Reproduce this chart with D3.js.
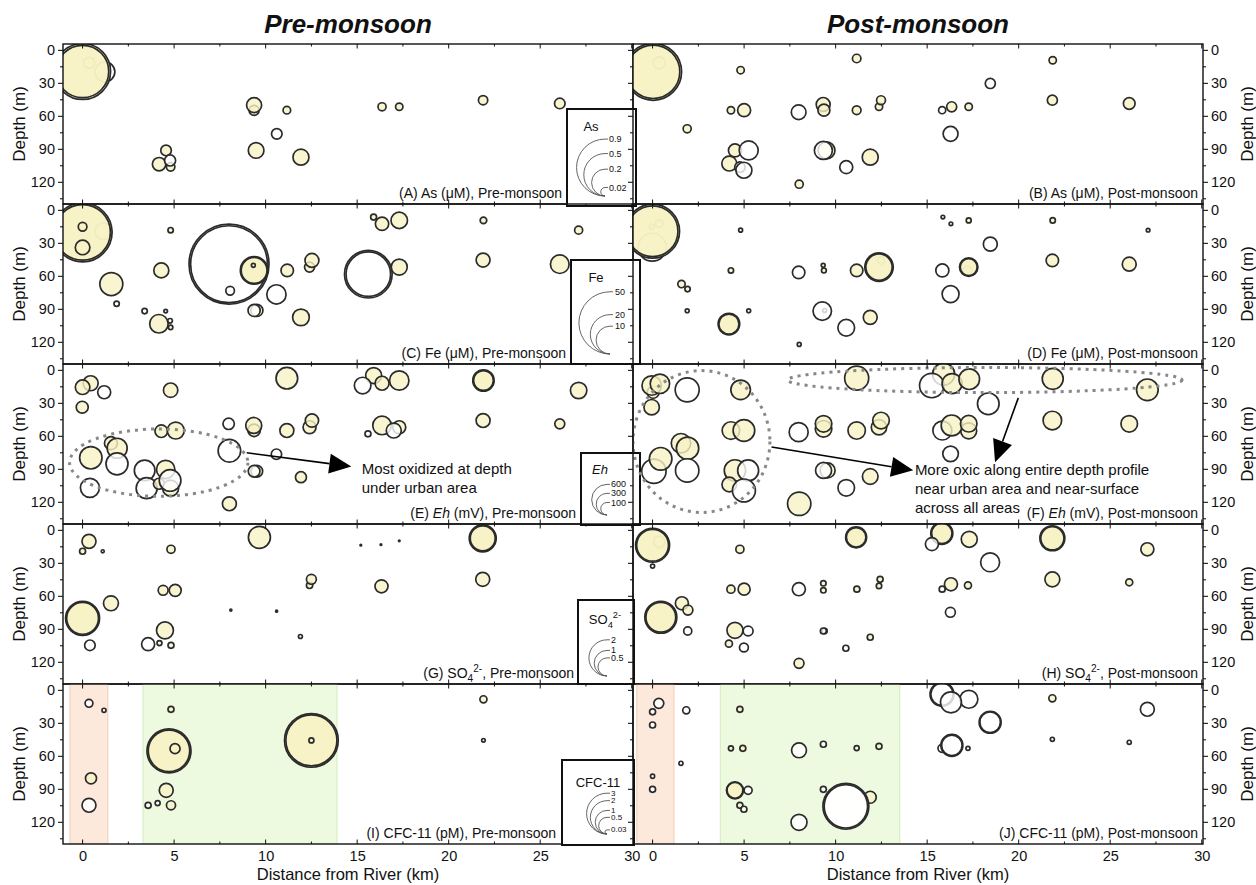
<!DOCTYPE html>
<html><head><meta charset="utf-8">
<script src="https://cdn.jsdelivr.net/npm/d3@7"></script>
<style>
body{margin:0;background:#fff}
text{font-family:"Liberation Sans",Arial,Helvetica,sans-serif;fill:#111}
</style>
</head><body>
<svg id="chart" width="1256" height="885"></svg>
<script>
// Each record: [distance from river (km), depth (m), value, open marker (1 = unfilled)]
const asPre = [
  [0.36,11.8,0.034,0],[1.22,20,0.11,1],[0,19.7,0.87,0],[0,19.7,0.76,0],
  [4.56,91.5,0.031,0],[4.18,104,0.05,0],[4.81,106.4,0.02,0],[4.78,100.6,0.034,1],
  [9.37,55,0.028,0],[9.37,50.3,0.0625,0],[11.16,54.9,0.016,0],[10.61,76.4,0.031,1],
  [9.48,91.5,0.068,0],[11.93,97.6,0.071,0],[16.36,51.8,0.018,0],[17.3,51.8,0.015,0],
  [21.88,45.8,0.024,0],[26.07,48.8,0.031,0]
];
const asPost = [
  [0.36,11.8,0.04,0],[0.03,20,0.9,0],[0.03,20,0.79,0],[4.81,18.5,0.015,0],
  [11.15,7.9,0.02,0],[4.28,54.9,0.015,0],[5.0,54.9,0.047,0],[1.89,71.8,0.018,0],
  [7.98,56.7,0.06,1],[9.32,49.7,0.054,0],[9.36,54.9,0.04,0],[11.15,54.9,0.021,0],
  [12.37,51.8,0.015,0],[12.48,45.8,0.022,0],[15.82,54.9,0.014,1],[16.28,76.4,0.062,1],
  [16.34,51.8,0.028,0],[17.27,51.8,0.015,0],[18.45,30.6,0.028,1],[21.86,9.5,0.015,0],
  [21.84,45.8,0.028,0],[26.04,48.8,0.038,0],[4.5,91.5,0.047,0],[5.25,91.5,0.1,1],
  [4.19,103.4,0.062,0],[4.77,106.7,0.03,1],[4.99,109.5,0.071,1],[9.5,91.5,0.08,0],
  [9.33,91.5,0.09,1],[10.58,106.7,0.047,1],[11.89,97.6,0.071,0],[8.01,122.2,0.018,0]
];
const fePre = [
  [1.13,19.4,3.6,1],[0,20.5,45,0],[0,20.5,40,0],[0,15.4,0.96,0],[0,34.2,2.75,0],
  [4.81,18.5,0.37,0],[4.3,55.1,2.9,0],[1.57,67.5,6.8,0],[1.86,85.4,0.37,1],
  [3.39,92.1,0.37,1],[4.54,92.1,0.17,0],[4.17,103.6,4.4,0],[4.78,100.9,0.27,1],
  [4.81,106.9,0.25,0],[8.0,49.4,82.6,1],[8.0,49.4,76.2,1],[8.06,73.6,0.96,1],
  [9.37,55.1,9.8,0],[9.37,55.1,8.6,0],[9.33,50.5,0.2,0],[9.52,91.5,1.9,0],
  [9.37,91.5,1.9,1],[10.59,76.9,4.8,1],[11.18,55.1,2.0,0],[12.4,52.1,1.3,0],
  [12.53,46,2.5,0],[11.93,97.8,3.6,0],[15.9,6.6,0.46,0],[16.36,12.7,2.3,0],
  [17.3,9.6,3.5,0],[15.61,58.5,29.3,1],[15.61,58.5,25.6,1],[17.3,52.1,3.3,0],
  [21.9,9.6,0.56,0],[21.88,45.7,2.5,0],[27.1,18.5,0.83,0],[26.07,49.4,4.5,0]
];
const fePost = [
  [-0.02,34,10.1,1],[0.36,12.4,0.7,0],[-0.05,15.5,0.32,0],[0,19.4,37.6,0],[0,19.4,33.2,0],
  [4.81,18.5,0.2,0],[1.58,67.5,0.7,0],[1.91,72.1,0.37,0],[1.89,91.8,0.2,1],
  [4.28,55.1,0.37,0],[5.25,91.8,0.2,1],[4.17,103.9,6,0],[4.17,103.9,5.2,0],
  [7.98,56.9,2.0,1],[9.32,50.5,0.2,0],[9.36,55.1,0.3,0],[9.4,91.5,0.2,0],
  [9.27,92.1,4.4,1],[10.58,107.3,3.6,1],[11.15,55.1,2.0,0],[11.89,97.8,2.5,0],
  [12.48,46,0.7,0],[12.37,52.1,10.4,0],[12.37,52.1,9.0,0],[8.01,122.4,0.2,0],
  [15.86,6.6,0.17,0],[16.3,12.7,0.17,0],[17.27,9.6,0.32,0],[15.83,55.1,2.2,1],
  [17.2,55.5,1.0,0],[17.27,52.1,4.4,0],[17.27,52.1,3.7,0],[16.28,76.6,3.7,1],
  [18.45,31.2,2.5,1],[21.86,9.6,0.37,0],[21.84,46,2.0,0],[27.07,18.5,0.17,0],
  [26.04,49.4,2.5,0]
];
const ehPre = [
  [0.44,12.2,144,0],[0,15.8,136,0],[1.18,20.4,108,1],[-0.02,34,92,0],
  [0.45,80,321,0],[0.4,107.3,231,1],[1.55,66.7,108,0],[1.89,71.3,256,0],
  [1.88,85.5,310,1],[3.39,91.5,272,1],[3.5,107.6,282,1],[4.17,103.6,77,0],
  [4.81,107.6,164,0],[4.54,90.6,216,0],[4.78,100.6,300,1],[4.3,55.8,102,0],
  [5.09,55.2,185,0],[4.81,18.5,132,0],[7.98,49.1,83,1],[8.02,73.6,327,1],
  [8.02,121.8,125,0],[9.37,55,100,0],[9.35,50.6,164,0],[9.52,92.2,87,0],
  [9.37,92.2,87,1],[10.59,76.7,69,1],[11.16,7.6,300,0],[11.16,55.2,125,0],
  [12.4,52.2,108,0],[12.53,46.1,114,0],[11.93,97.6,77,0],[15.9,5.2,164,0],
  [16.36,12.2,125,0],[15.3,14.3,176,1],[17.3,9.7,240,0],[16.36,50.6,221,0],
  [17.3,52.2,108,0],[17.0,55.2,144,1],[15.59,58.2,23,1],[21.9,9.7,292,0],
  [21.9,9.7,250,0],[21.88,46.1,125,0],[27.1,18.8,172,0],[26.07,49.1,64,0]
];
const ehPost = [
  [0.03,20.4,92,0],[-0.05,14.3,241,0],[0.4,12.7,241,0],[-0.05,34,152,0],
  [1.89,18.2,369,1],[4.81,18.2,246,0],[4.28,55.2,198,0],[4.99,55.2,300,0],
  [1.55,66.7,241,0],[1.91,71.3,321,0],[0.07,92.2,380,1],[0.44,80.9,327,0],
  [1.89,91.5,350,1],[4.5,91.5,293,0],[5.22,91.5,282,1],[4.19,104.3,137,0],
  [4.99,109.7,338,1],[8.01,121.8,350,0],[7.98,56.7,231,1],[9.34,53.6,176,0],
  [9.34,49.1,176,0],[11.15,55.2,194,0],[12.37,52.2,152,0],[12.48,46.1,176,0],
  [9.56,91.5,144,0],[9.34,91.5,164,1],[10.58,107.3,176,1],[11.89,97,156,0],
  [11.15,7.6,369,0],[15.9,4,310,0],[15.25,14.3,380,1],[16.36,12.5,256,0],
  [17.3,8.5,272,0],[18.34,30.9,300,1],[17.27,55.5,164,0],[15.83,55.2,231,1],
  [16.34,50.6,282,0],[17.27,49,176,0],[16.28,76.4,156,1],[21.86,8.2,282,0],
  [21.84,46.1,221,0],[27.03,18.2,300,0],[26.04,49.1,176,0]
];
const so4Pre = [
  [0,19.5,0.055,0],[0.35,10.5,0.3,0],[1.1,19.5,0.014,1],[4.83,17.7,0.1,0],
  [9.66,6.8,0.74,0],[15.2,14,0.003,1],[16.3,13.5,0.003,1],[17.3,10,0.003,1],
  [21.86,7.7,1.11,0],[21.86,7.7,0.95,0],[12.4,50.5,0.06,0],[12.5,45,0.15,0],
  [21.86,45,0.3,0],[16.33,51.4,0.26,0],[4.4,55,0.15,0],[5.06,55,0.22,0],
  [0,80.5,1.76,0],[0,80.5,1.55,0],[1.55,66.8,0.34,0],[4.5,91.4,0.44,0],
  [4.2,103,0.038,0],[3.58,104,0.26,1],[0.4,105,0.17,1],[4.83,105,0.055,0],
  [11.9,97,0.024,0],[8.1,73,0.006,1],[10.6,74,0.006,1]
];
const so4Post = [
  [0.36,11,0.2,0],[0,14,1.76,0],[0,14,1.55,0],[0,33,0.025,1],[4.77,17.7,0.1,0],
  [11.12,6.8,0.67,0],[11.12,6.8,0.58,0],[15.8,3.2,0.74,0],[15.8,3.2,0.64,0],
  [15.26,13,0.26,1],[17.3,8.6,0.39,0],[18.44,29.5,0.55,1],[21.84,7.7,0.95,0],
  [21.84,7.7,0.82,0],[27.03,17.7,0.26,0],[21.84,45,0.34,0],[26.04,47.7,0.075,0],
  [12.37,51,0.045,0],[12.43,45,0.055,0],[9.33,48.6,0.045,0],[9.33,55,0.045,0],
  [7.99,54,0.26,1],[11.16,54,0.055,0],[15.82,54,0.055,1],[16.3,49.5,0.26,0],
  [17.23,50.5,0.075,0],[16.27,75,0.15,1],[4.28,54,0.1,0],[5.0,54,0.22,0],
  [1.6,66.8,0.26,0],[1.93,73,0.15,0],[0.45,79.5,1.56,0],[0.45,79.5,1.36,0],
  [1.92,92,0.1,1],[4.5,91.4,0.39,0],[5.22,92,0.15,1],[4.17,103.5,0.075,0],
  [4.99,107,0.12,1],[9.4,92,0.04,0],[9.33,92,0.055,1],[10.56,107.7,0.055,1],
  [11.89,97.7,0.055,0],[8.0,121.4,0.15,0]
];
const cfcPre = [
  [0.35,12.3,0.11,1],[1.17,18.6,0.03,1],[0.46,80.5,0.22,0],[0.35,105,0.35,1],
  [4.83,17.7,0.065,0],[4.72,55.5,3.5,0],[4.72,55.5,3.1,0],[5.05,53.5,0.18,0],
  [4.57,91.4,0.35,0],[4.83,105,0.15,0],[3.58,105,0.065,1],[4.1,103,0.045,1],
  [12.5,46,5.2,0],[12.5,46,4.7,0],[12.5,46,0.045,0],[21.9,8.6,0.09,0],[21.9,45.9,0.023,0]
];
const cfcPost = [
  [0.34,12.3,0.18,1],[0,20,0.065,1],[0,32,0.065,1],[1.84,18.6,0.09,1],
  [1.55,66.8,0.03,1],[0,78.6,0.03,1],[0,90.5,0.065,1],[4.77,17.7,0.065,0],
  [4.28,53.2,0.045,0],[4.93,53.2,0.065,0],[8.0,55,0.4,1],[9.33,49.5,0.065,1],
  [11.15,53,0.045,1],[12.37,51.4,0.065,0],[4.5,91.4,0.52,0],[4.5,91.4,0.45,0],
  [5.22,91.4,0.115,1],[4.77,105,0.065,0],[4.99,108.6,0.065,1],[9.33,90.5,0.065,1],
  [11.89,97.7,0.26,0],[10.56,105.9,3.8,1],[10.56,105.9,3.4,1],[8.0,120.5,0.46,1],
  [15.81,4,1.03,1],[15.81,4,0.9,1],[17.28,8.6,0.58,1],[16.3,11.4,0.79,1],
  [18.44,29.5,0.87,1],[18.44,29.5,0.76,1],[15.81,53.2,0.115,1],[16.35,50.5,0.87,1],
  [16.35,50.5,0.76,1],[17.23,53.2,0.03,1],[21.84,7.7,0.09,0],[21.84,45,0.03,0],
  [27.03,17.7,0.35,1],[26.04,47.7,0.03,1]
];

// Legend values per parameter
const asLegend = [0.9,0.5,0.2,0.02];
const feLegend = [50,20,10];
const ehLegend = [600,300,100];
const so4Legend = [2,1,0.5];
const cfcLegend = [3,2,1,0.5,0.03];

// Axis ticks
const xTicks = [0,5,10,15,20,25,30];
const xMinor = [2.5,7.5,12.5,17.5,22.5,27.5];
const yTicks = [0,30,60,90,120];
const yMinor = [15,45,75,105,135];

// Shaded zones in the CFC-11 panels: [from km, to km, kind]
const cfcZonesPre = [[-0.69,1.38,'urban'],[3.3,13.9,'rural']];
const cfcZonesPost = [[-0.86,1.17,'urban'],[3.7,13.5,'rural']];

// Annotations for the Eh panels (data units)
const ehPreEllipse = [[4.16,84.4,4.87,30.6]];
const ehPostEllipses = [[2.67,65.2,3.74,64.5],[18.16,9.3,10.77,11.4]];
const ehPreArrows = [[8.97,75.4,14.68,87.9]];
const ehPostArrows = [[6.5,70.2,14.24,91.4],[19.98,25.5,18.71,84.0]];
const ehPreNote = ["Most oxidized at depth","under urban area"];
const ehPostNote = ["More oxic along entire depth profile","near urban area and near-surface","across all areas"];

const svg = d3.select('#chart');
const cols = [[63,633],[633,1203]];
const rowTop = [44,204,364,524,684];
const rowH = 160;
const xDom = [-1.07,30.07];
const yDom = [-5.3,140.2];
const YELLOW = '#f8f3c4';
const EDGE = '#2b2b2b';

const sizes = {
  as: d3.scaleSqrt().domain([0,1]).range([0,30]),
  fe: d3.scaleSqrt().domain([0,100]).range([0,44]),
  eh: d3.scaleSqrt().domain([0,600]).range([0,15.3]),
  so4: d3.scaleSqrt().domain([0,2]).range([0,18.1]),
  cfc: d3.scaleSqrt().domain([0,3]).range([0,20.4])
};

function rich(sel, parts){
  let shift = 0;
  parts.forEach(([t,s])=>{
    const ts = sel.append('tspan').text(t);
    const target = s==='sub'?4:(s==='sup'?-6:0);
    if (target!==shift) ts.attr('dy', target-shift);
    shift = target;
    if (s==='sub'||s==='sup') ts.attr('font-size','72%');
    if (s==='i') ts.attr('font-style','italic');
  });
}

const panels = [
  {data:asPre, col:0,row:0, size:'as', label:[['(A) As (μM), Pre-monsoon']], labelX:562,
   legend:{box:[567,109,69,97], title:[['As']], tx:591, ty:131, vals:asLegend, cx:605, by:196, lx:609}},
  {data:asPost, col:1,row:0, size:'as', label:[['(B) As (μM), Post-monsoon']], labelX:1198},
  {data:fePre, col:0,row:1, size:'fe', label:[['(C) Fe (μM), Pre-monsoon']], labelX:566,
   legend:{box:[571,260,69,104], title:[['Fe']], tx:596, ty:282, vals:feLegend, cx:610, by:354, lx:615}},
  {data:fePost, col:1,row:1, size:'fe', label:[['(D) Fe (μM), Post-monsoon']], labelX:1198},
  {data:ehPre, col:0,row:2, size:'eh', label:[['(E) '],['Eh','i'],[' (mV), Pre-monsoon']], labelX:576,
   legend:{box:[581,453,59,72], title:[['Eh','i']], tx:600, ty:474, vals:ehLegend, cx:607, by:515, lx:611},
   ellipses:ehPreEllipse, arrows:ehPreArrows, note:ehPreNote, noteAt:[15.25,94.5]},
  {data:ehPost, col:1,row:2, size:'eh', label:[['(F) '],['Eh','i'],[' (mV), Post-monsoon']], labelX:1198,
   ellipses:ehPostEllipses, arrows:ehPostArrows, note:ehPostNote, noteAt:[14.33,95.5]},
  {data:so4Pre, col:0,row:3, size:'so4', label:[['(G) SO'],['4','sub'],['2-','sup'],[', Pre-monsoon']], labelX:574,
   legend:{box:[578,600,56,84], title:[['SO'],['4','sub'],['2-','sup']], tx:605, ty:624, vals:so4Legend, cx:607, by:676, lx:611}},
  {data:so4Post, col:1,row:3, size:'so4', label:[['(H) SO'],['4','sub'],['2-','sup'],[', Post-monsoon']], labelX:1198},
  {data:cfcPre, col:0,row:4, size:'cfc', label:[['(I) CFC-11 (pM), Pre-monsoon']], labelX:556, zones:cfcZonesPre,
   legend:{box:[562,760,72,85], title:[['CFC-11']], tx:598, ty:787, vals:cfcLegend, cx:607, by:834, lx:611}},
  {data:cfcPost, col:1,row:4, size:'cfc', label:[['(J) CFC-11 (pM), Post-monsoon']], labelX:1198, zones:cfcZonesPost}
];

const defs = svg.append('defs');

panels.forEach((p,i)=>{
  const [x0,x1] = cols[p.col];
  const top = rowTop[p.row], bot = top+rowH;
  const xs = d3.scaleLinear().domain(xDom).range([x0,x1]);
  const ys = d3.scaleLinear().domain(yDom).range([top,bot]);
  const rs = sizes[p.size];
  const g = svg.append('g');

  defs.append('clipPath').attr('id','clip'+i).append('rect')
    .attr('x',x0).attr('y',top).attr('width',x1-x0).attr('height',rowH);

  const plot = g.append('g').attr('clip-path',`url(#clip${i})`);

  if (p.zones){
    plot.selectAll('rect.zone').data(p.zones).join('rect')
      .attr('x',d=>xs(d[0])).attr('width',d=>xs(d[1])-xs(d[0]))
      .attr('y',top).attr('height',rowH)
      .attr('fill',d=>d[2]==='urban'?'#fde9dc':'#eefae0')
      .attr('stroke',d=>d[2]==='urban'?'#efcdb6':'#d3ebbb').attr('stroke-width',1);
  }

  plot.selectAll('circle').data(p.data).join('circle')
    .attr('cx',d=>xs(d[0])).attr('cy',d=>ys(d[1]))
    .attr('r',d=>Math.max(0.8,rs(d[2])))
    .attr('fill',d=>d[3]?'#ffffff':YELLOW)
    .attr('fill-opacity',0.8)
    .attr('stroke',EDGE).attr('stroke-width',1.7);

  if (p.ellipses){
    plot.selectAll('ellipse').data(p.ellipses).join('ellipse')
      .attr('cx',d=>xs(d[0])).attr('cy',d=>ys(d[1]))
      .attr('rx',d=>xs(d[0]+d[2])-xs(d[0])).attr('ry',d=>ys(d[1]+d[3])-ys(d[1]))
      .attr('fill','none').attr('stroke','#888').attr('stroke-width',3)
      .attr('stroke-dasharray','3,5');
  }

  // x ticks, inward from top and bottom edges
  const tickG = g.append('g').attr('stroke','#111');
  const xt = (vals,len)=>{
    vals.forEach(v=>{
      const x = xs(v);
      tickG.append('line').attr('x1',x).attr('x2',x).attr('y1',top).attr('y2',top+len);
      tickG.append('line').attr('x1',x).attr('x2',x).attr('y1',bot).attr('y2',bot-len);
    });
  };
  xt(xTicks,4.5); xt(xMinor,2.5);

  // y axis (outer side of each column, plus ticks on the shared edge)
  const yMajor = p.col===0? d3.axisLeft(ys) : d3.axisRight(ys);
  const yAx = g.append('g').attr('transform',`translate(${p.col===0?x0:x1},0)`)
    .call(yMajor.tickValues(yTicks).tickSize(5).tickPadding(3).tickFormat(d3.format('d')));
  yAx.select('.domain').remove();
  yAx.selectAll('text').attr('font-size','14.5px').attr('fill','#111')
    .attr('font-family','"Liberation Sans",Arial,sans-serif');
  const yMin = p.col===0? d3.axisLeft(ys) : d3.axisRight(ys);
  const yAx2 = g.append('g').attr('transform',`translate(${p.col===0?x0:x1},0)`)
    .call(yMin.tickValues(yMinor).tickSize(3).tickFormat(''));
  yAx2.select('.domain').remove();
  if (p.col===1){
    const inner = g.append('g').attr('transform',`translate(${x0},0)`)
      .call(d3.axisLeft(ys).tickValues(yTicks).tickSize(5).tickFormat(''));
    inner.select('.domain').remove();
    const inner2 = g.append('g').attr('transform',`translate(${x0},0)`)
      .call(d3.axisLeft(ys).tickValues(yMinor).tickSize(3).tickFormat(''));
    inner2.select('.domain').remove();
  }

  // frame
  g.append('rect').attr('x',x0).attr('y',top).attr('width',x1-x0).attr('height',rowH)
    .attr('fill','none').attr('stroke','#111').attr('stroke-width',1.4);

  // depth label
  const lx = p.col===0? 19 : 1247;
  g.append('text').attr('transform',`translate(${lx},${top+rowH/2}) rotate(-90)`)
    .attr('text-anchor','middle').attr('dominant-baseline','central')
    .attr('font-size','17px').text('Depth (m)');

  // panel caption
  const cap = g.append('text').attr('x',p.labelX).attr('y',bot-6)
    .attr('text-anchor','end').attr('font-size','14px');
  rich(cap,p.label);

  // annotation arrows and notes
  if (p.arrows){
    p.arrows.forEach(a=>{
      const xA=xs(a[0]), yA=ys(a[1]), xB=xs(a[2]), yB=ys(a[3]);
      const ang = Math.atan2(yB-yA,xB-xA);
      const L=22, hw=10;
      const bx = xB-L*Math.cos(ang), by = yB-L*Math.sin(ang);
      g.append('line').attr('x1',xA).attr('y1',yA).attr('x2',bx).attr('y2',by)
        .attr('stroke','#000').attr('stroke-width',1.6);
      const px = -Math.sin(ang)*hw, py = Math.cos(ang)*hw;
      g.append('path').attr('d',`M${xB},${yB}L${bx+px},${by+py}L${bx-px},${by-py}Z`).attr('fill','#000');
    });
  }
  if (p.note){
    const nx = xs(p.noteAt[0]);
    p.note.forEach((t,k)=>{
      g.append('text').attr('x',nx).attr('y',ys(p.noteAt[1])+k*19)
        .attr('font-size','15px').text(t);
    });
  }

  // size legend
  if (p.legend){
    const L = p.legend;
    const lg = svg.append('g');
    lg.append('rect').attr('x',L.box[0]).attr('y',L.box[1]).attr('width',L.box[2]).attr('height',L.box[3])
      .attr('fill','#fff').attr('stroke','#111').attr('stroke-width',2);
    const tt = lg.append('text').attr('x',L.tx).attr('y',L.ty).attr('text-anchor','middle').attr('font-size','13px');
    rich(tt,L.title);
    L.vals.forEach(v=>{
      const r = rs(v);
      lg.append('path').attr('d',`M${L.cx},${L.by}A${r},${r} 0 0 1 ${L.cx},${L.by-2*r}l3,0`)
        .attr('fill','none').attr('stroke','#555').attr('stroke-width',0.9);
      lg.append('text').attr('x',L.lx).attr('y',L.by-2*r).attr('dominant-baseline','central')
        .attr('font-size', L.vals.length>4?'8px':'9px').text(v);
    });
  }

  // bottom axis labels
  if (p.row===4){
    const xb = g.append('g').attr('transform',`translate(0,${bot})`)
      .call(d3.axisBottom(xs).tickValues(xTicks).tickSize(0).tickPadding(7).tickFormat(d3.format('d')));
    xb.select('.domain').remove();
    xb.selectAll('text').attr('font-size','14.5px').attr('fill','#111')
      .attr('font-family','"Liberation Sans",Arial,sans-serif');
    g.append('text').attr('x',(x0+x1)/2).attr('y',880).attr('text-anchor','middle')
      .attr('font-size','16.5px').text('Distance from River (km)');
  }
});

// column titles
svg.append('text').attr('x',348).attr('y',33).attr('text-anchor','middle')
  .attr('font-size','26px').attr('font-weight','bold').attr('font-style','italic').text('Pre-monsoon');
svg.append('text').attr('x',918).attr('y',33).attr('text-anchor','middle')
  .attr('font-size','26px').attr('font-weight','bold').attr('font-style','italic').text('Post-monsoon');
</script>
</body></html>
